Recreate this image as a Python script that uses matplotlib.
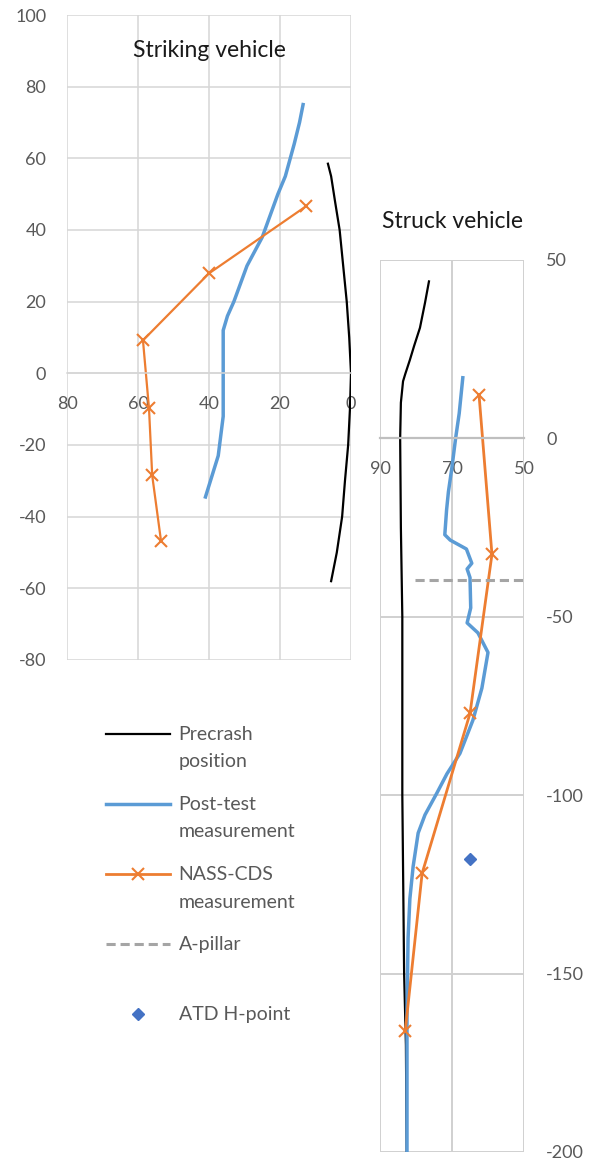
import matplotlib
matplotlib.use("Agg")
import matplotlib.pyplot as plt
from matplotlib.lines import Line2D

plt.rcParams['font.family'] = ['Lato', 'DejaVu Sans']
plt.rcParams['axes.unicode_minus'] = False

# ---- Striking vehicle (left panel) ----
strike_pre_x = [6.5, 5.6, 4.5, 3.2, 2.2, 1.2, 0.5, 0.0, 0.3, 0.8, 1.7, 2.5, 4.0, 5.6]
strike_pre_y = [58.5, 55, 48, 40, 30, 20, 10, 0, -10, -20, -30, -40, -50, -58]

strike_post_x = [13.5, 14.5, 16.0, 18.5, 20.6, 25.0, 29.3, 33.0, 34.8, 36.0, 36.0, 36.0, 37.4, 41.0]
strike_post_y = [75, 70, 64, 55, 50, 38, 30, 20, 16, 12, 0, -12, -23, -34.5]

strike_nass_x = [12.7, 40.0, 58.6, 56.9, 56.0, 53.5]
strike_nass_y = [46.6, 27.9, 9.2, -9.8, -28.5, -46.9]

# ---- Struck vehicle (right panel) ----
struck_pre_x = [76.4, 77.5, 78.9, 80.5, 81.7, 83.0, 83.6, 84.2, 84.4, 84.2, 83.8, 83.8, 83.3, 82.8, 82.6]
struck_pre_y = [44, 38, 31, 26, 22, 18, 16, 10, 0, -25, -50, -100, -150, -170, -200]

struck_post_x = [67.0, 68.0, 69.0, 70.0, 71.0, 71.5, 72.0, 70.5, 66.0, 64.5, 65.8, 65.0, 64.8, 65.8,
                 62.8, 60.0, 61.7, 64.2, 67.8, 71.4, 74.2, 77.5, 79.4, 80.8, 81.7, 82.2, 82.5, 82.5]
struck_post_y = [17, 7, 0, -8, -15, -20, -27, -28.5, -31, -35, -36.6, -39, -47.5, -51.7,
                 -54.5, -60, -70, -79, -88.3, -94, -99.4, -105.5, -110.6, -120, -129, -140, -160, -200]

struck_nass_x = [62.5, 58.9, 65.0, 78.3, 83.0]
struck_nass_y = [12.3, -32.5, -77.1, -121.9, -166.2]

apillar_x = [80.3, 50.0]
apillar_y = [-39.7, -39.7]

hpoint_x = [65.0]
hpoint_y = [-117.9]

left_xticks = [80, 60, 40, 20, 0]
left_yticks = [100, 80, 60, 40, 20, 0, -20, -40, -60, -80]
right_xticks = [90, 70, 50]
right_yticks = [50, 0, -50, -100, -150, -200]

BLACK = '#000000'
BLUE = '#5B9BD5'
ORANGE = '#ED7D31'
GRAY = '#A5A5A5'
DIAMOND = '#4472C4'
TICK_COLOR = '#595959'
TICK_SIZE = 13
TITLE_SIZE = 16.5

W, H = 589, 1162
fig = plt.figure(figsize=(W / 100, H / 100), dpi=100)


def px_axes(x0, y0, x1, y1):
    return fig.add_axes([x0 / W, 1 - y1 / H, (x1 - x0) / W, (y1 - y0) / H])


# Left panel
ax1 = px_axes(67, 15, 351, 660)
ax1.set_xlim(80, 0)
ax1.set_ylim(-80, 100)
ax1.set_xticks(left_xticks)
ax1.set_yticks(left_yticks)
ax1.grid(True, color='#D6D6D6', lw=1.1)
ax1.set_axisbelow(True)
for s in ax1.spines.values():
    s.set_visible(False)
ax1.spines['bottom'].set_visible(True)
ax1.spines['bottom'].set_position(('data', 0))
ax1.spines['bottom'].set_color('#D6D6D6')
ax1.spines['bottom'].set_linewidth(1.1)
ax1.tick_params(axis='x', length=0, pad=16, labelsize=TICK_SIZE, labelcolor=TICK_COLOR)
ax1.tick_params(axis='y', length=0, pad=15, labelsize=TICK_SIZE, labelcolor=TICK_COLOR)

ax1.plot(strike_pre_x, strike_pre_y, color=BLACK, lw=1.6)
ax1.plot(strike_post_x, strike_post_y, color=BLUE, lw=2.5)
ax1.plot(strike_nass_x, strike_nass_y, color=ORANGE, lw=1.6, marker='x', ms=9, mew=1.5)
ax1.text(0.5, 0.945, 'Striking vehicle', transform=ax1.transAxes, ha='center', va='center',
         fontsize=TITLE_SIZE, color='#1a1a1a')

# Right panel
ax2 = px_axes(380, 260, 524, 1152)
ax2.set_xlim(90, 50)
ax2.set_ylim(-200, 50)
ax2.set_xticks(right_xticks)
ax2.set_yticks(right_yticks)
ax2.grid(True, color='#D0D0D0', lw=1.4)
ax2.set_axisbelow(True)
for s in ax2.spines.values():
    s.set_visible(False)
ax2.spines['bottom'].set_visible(True)
ax2.spines['bottom'].set_position(('data', 0))
ax2.spines['bottom'].set_color('#BFBFBF')
ax2.spines['bottom'].set_linewidth(1.6)
ax2.yaxis.tick_right()
ax2.tick_params(axis='x', length=0, pad=16, labelsize=TICK_SIZE, labelcolor=TICK_COLOR)
ax2.tick_params(axis='y', length=0, pad=16, labelsize=TICK_SIZE, labelcolor=TICK_COLOR)

ax2.plot(struck_pre_x, struck_pre_y, color=BLACK, lw=1.6)
ax2.plot(struck_post_x, struck_post_y, color=BLUE, lw=2.5)
ax2.plot(struck_nass_x, struck_nass_y, color=ORANGE, lw=2.0, marker='x', ms=9, mew=1.5)
ax2.plot(apillar_x, apillar_y, color=GRAY, lw=2.2, ls=(0, (3, 1.6)))
ax2.plot(hpoint_x, hpoint_y, ls='none', marker='D', ms=6.5, color=DIAMOND)
ax2.text(0.5, 1.0 + 38 / 892, 'Struck vehicle', transform=ax2.transAxes, ha='center', va='center',
         fontsize=TITLE_SIZE, color='#1a1a1a')

# Legend
handles = [
    Line2D([], [], color=BLACK, lw=1.6),
    Line2D([], [], color=BLUE, lw=2.5),
    Line2D([], [], color=ORANGE, lw=2.0, marker='x', ms=9, mew=1.5),
    Line2D([], [], color=GRAY, lw=2.2, ls=(0, (3, 1.6))),
    Line2D([], [], ls='none', marker='D', ms=6.5, color=DIAMOND),
]
labels = ['Precrash\nposition', 'Post-test\nmeasurement', 'NASS-CDS\nmeasurement', 'A-pillar\n', 'ATD H-point\n']
leg = fig.legend(handles, labels, loc='upper left', bbox_to_anchor=(98 / W, 1 - 718 / H),
                 frameon=False, fontsize=14, handlelength=3.3, handleheight=1.1,
                 handletextpad=0.45, labelspacing=1.32, labelcolor=TICK_COLOR, borderaxespad=0)
for t in leg.get_texts():
    t.set_linespacing(1.75)
for col in leg._legend_handle_box.get_children():
    for item in col.get_children():
        item.align = 'top'

fig.savefig('out.png', dpi=100)
